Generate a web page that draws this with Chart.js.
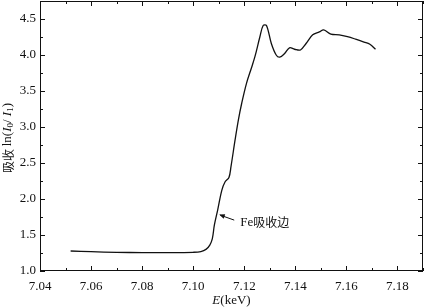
<!DOCTYPE html>
<html>
<head>
<meta charset="utf-8">
<script src="https://cdn.jsdelivr.net/npm/chart.js@4.4.0/dist/chart.umd.min.js"></script>
<style>
  html, body { margin: 0; padding: 0; background: #fff; }
  #wrap { width: 427px; height: 308px; }
</style>
</head>
<body>
<div id="wrap"><canvas id="xas"></canvas></div>
<script>
// energy (keV) and absorption ln(I0/I1)
const energy = [7.052, 7.06, 7.07, 7.08, 7.09, 7.100, 7.103, 7.105, 7.1065, 7.1075, 7.1083, 7.1096,
  7.1112, 7.1125, 7.114, 7.1148, 7.1164, 7.1177, 7.119, 7.1209, 7.1228, 7.1242, 7.1261, 7.1274,
  7.1287, 7.1306, 7.1325, 7.1339, 7.1358, 7.1377, 7.1397, 7.142, 7.1442, 7.1468, 7.1494, 7.1511,
  7.1539, 7.1572, 7.1604, 7.1636, 7.1669, 7.1692, 7.1714];
const absorb = [1.278, 1.268, 1.26, 1.255, 1.255, 1.26, 1.27, 1.30, 1.36, 1.45, 1.64, 1.85,
  2.12, 2.24, 2.30, 2.45, 2.82, 3.10, 3.33, 3.61, 3.82, 3.98, 4.25, 4.41,
  4.41, 4.16, 4.00, 3.97, 4.02, 4.10, 4.08, 4.07, 4.16, 4.28, 4.32, 4.35,
  4.29, 4.28, 4.255, 4.22, 4.18, 4.15, 4.08];

const xRange = [7.04, 7.19];
const yRange = [1.0, 4.75];
const xTicks = [7.04, 7.06, 7.08, 7.10, 7.12, 7.14, 7.16, 7.18];
const yTicks = [1.0, 1.5, 2.0, 2.5, 3.0, 3.5, 4.0, 4.5];

// annotation: arrow tip on the edge, label to the right
const edgeLabel = ['Fe', '吸收边'];
const edgePoint = { x: 7.1098, y: 1.79 };

const serif = '"Liberation Serif", "DejaVu Serif", serif';
const cjk = '"Noto Sans CJK SC", sans-serif';

function noPad(s) {
  s.paddingTop = 0; s.paddingBottom = 0; s.paddingLeft = 0; s.paddingRight = 0;
}

const framePlugin = {
  id: 'frame',
  afterDraw(chart) {
    const { ctx, chartArea: a, scales: { x, y } } = chart;
    ctx.save();
    ctx.strokeStyle = '#111';
    ctx.lineWidth = 1;
    ctx.strokeRect(a.left + 0.5, a.top + 0.5, a.right - a.left - 1, a.bottom - a.top - 1);

    // inward ticks on all four sides
    ctx.beginPath();
    for (let v = xRange[0]; v <= xRange[1] + 1e-9; v += 0.01) {
      const px = Math.round(x.getPixelForValue(v)) + 0.5;
      const major = Math.abs((v - 7.04) / 0.02 - Math.round((v - 7.04) / 0.02)) < 1e-6;
      const len = major ? 5 : 3;
      ctx.moveTo(px, a.bottom); ctx.lineTo(px, a.bottom - len);
      ctx.moveTo(px, a.top); ctx.lineTo(px, a.top + len);
    }
    for (let v = yRange[0]; v <= yRange[1] + 1e-9; v += 0.25) {
      const py = Math.round(y.getPixelForValue(v)) + 0.5;
      const major = Math.abs(v * 2 - Math.round(v * 2)) < 1e-6;
      const len = major ? 5 : 3;
      ctx.moveTo(a.left, py); ctx.lineTo(a.left + len, py);
      ctx.moveTo(a.right, py); ctx.lineTo(a.right - len, py);
    }
    ctx.stroke();

    // x title: E(keV)
    ctx.fillStyle = '#111';
    ctx.textBaseline = 'middle';
    ctx.textAlign = 'left';
    const cx = (a.left + a.right) / 2;
    ctx.font = 'italic 13px ' + serif;
    const wE = ctx.measureText('E').width;
    ctx.font = '13px ' + serif;
    const wK = ctx.measureText('(keV)').width;
    const sx = cx - (wE + wK) / 2;
    ctx.font = 'italic 13px ' + serif;
    ctx.fillText('E', sx, 301);
    ctx.font = '13px ' + serif;
    ctx.fillText('(keV)', sx + wE, 301);

    // y title: 吸收 ln(I0/I1), rotated
    const parts = [
      { t: '吸收 ', f: '12px ' + cjk, dy: 0 },
      { t: 'ln(', f: '13px ' + serif, dy: 0 },
      { t: 'I', f: 'italic 13px ' + serif, dy: 0 },
      { t: '0', f: '9px ' + serif, dy: 3 },
      { t: '/ ', f: '13px ' + serif, dy: 0 },
      { t: 'I', f: 'italic 13px ' + serif, dy: 0 },
      { t: '1', f: '9px ' + serif, dy: 3 },
      { t: ')', f: '13px ' + serif, dy: 0 }
    ];
    let total = 0;
    parts.forEach(p => { ctx.font = p.f; p.w = ctx.measureText(p.t).width; total += p.w; });
    ctx.save();
    ctx.translate(8, (a.top + a.bottom) / 2 + 2);
    ctx.rotate(-Math.PI / 2);
    let pos = -total / 2;
    parts.forEach(p => {
      ctx.font = p.f;
      ctx.fillText(p.t, pos, p.dy);
      pos += p.w;
    });
    ctx.restore();

    // annotation arrow + label
    const tx = x.getPixelForValue(edgePoint.x);
    const ty = y.getPixelForValue(edgePoint.y);
    const ex = tx + 16, ey = ty + 6;
    ctx.beginPath();
    ctx.moveTo(ex, ey); ctx.lineTo(tx + 2, ty + 1);
    ctx.stroke();
    const ang = Math.atan2(ty + 1 - ey, tx + 2 - ex);
    ctx.beginPath();
    ctx.moveTo(tx + 1, ty + 0.5);
    ctx.lineTo(tx + 1 - 6 * Math.cos(ang - 0.4), ty + 0.5 - 6 * Math.sin(ang - 0.4));
    ctx.lineTo(tx + 1 - 6 * Math.cos(ang + 0.4), ty + 0.5 - 6 * Math.sin(ang + 0.4));
    ctx.closePath();
    ctx.fill();
    ctx.font = '13px ' + serif;
    ctx.fillText(edgeLabel[0], ex + 6, ey + 2);
    const wFe = ctx.measureText(edgeLabel[0]).width;
    ctx.font = '12px ' + cjk;
    ctx.fillText(edgeLabel[1], ex + 6 + wFe, ey + 2);
    ctx.restore();
  }
};

new Chart(document.getElementById('xas'), {
  type: 'line',
  data: {
    datasets: [{
      data: energy.map((e, i) => ({ x: e, y: absorb[i] })),
      borderColor: '#111',
      borderWidth: 1.3,
      pointRadius: 0,
      tension: 0.35,
      fill: false
    }]
  },
  options: {
    responsive: true,
    maintainAspectRatio: false,
    animation: false,
    layout: { padding: { top: 1, right: 4, left: 0, bottom: 0 } },
    plugins: { legend: { display: false }, tooltip: { enabled: false } },
    scales: {
      x: {
        type: 'linear',
        min: xRange[0],
        max: xRange[1],
        afterFit(s) { s.height = 37; noPad(s); },
        afterBuildTicks(s) { s.ticks = xTicks.map(v => ({ value: v })); },
        grid: { display: false, drawTicks: false },
        border: { display: false },
        ticks: {
          padding: 8,
          color: '#111',
          font: { family: serif, size: 13 },
          maxRotation: 0,
          callback: v => v.toFixed(2)
        }
      },
      y: {
        min: yRange[0],
        max: yRange[1],
        afterFit(s) { s.width = 40; noPad(s); },
        afterBuildTicks(s) { s.ticks = yTicks.map(v => ({ value: v })); },
        grid: { display: false, drawTicks: false },
        border: { display: false },
        ticks: {
          padding: 4,
          color: '#111',
          font: { family: serif, size: 13 },
          callback: v => v.toFixed(1)
        }
      }
    }
  },
  plugins: [framePlugin]
});
</script>
</body>
</html>
